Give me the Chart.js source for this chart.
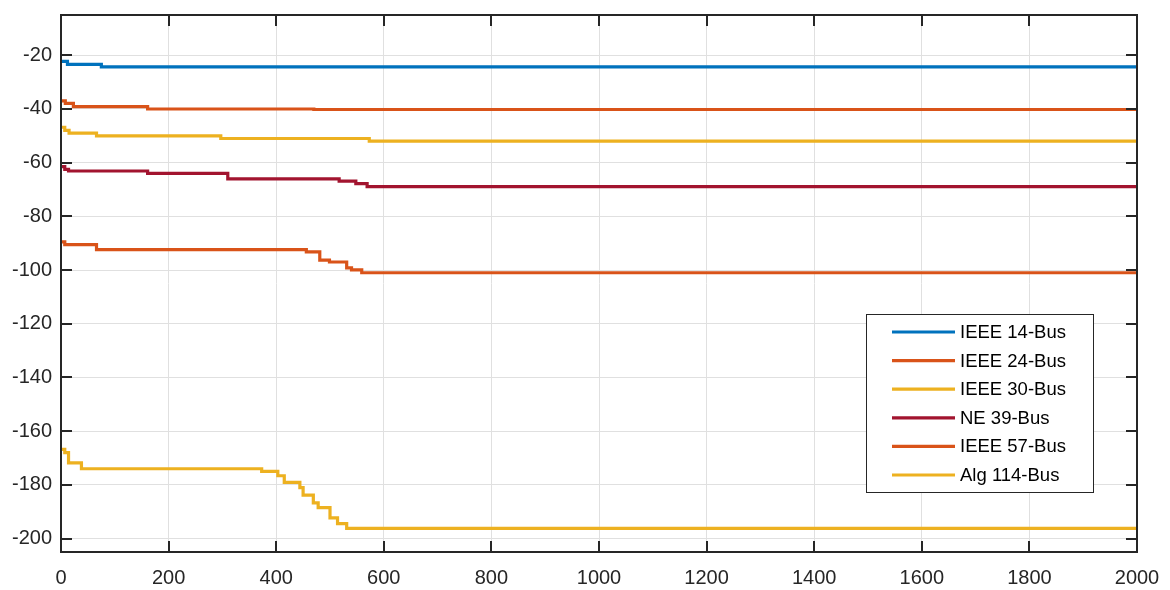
<!DOCTYPE html>
<html>
<head>
<meta charset="utf-8">
<script src="https://cdn.jsdelivr.net/npm/chart.js@4"></script>
<style>
  html, body { margin: 0; padding: 0; background: #fff; }
  #wrap { width: 1170px; height: 590px; }
</style>
</head>
<body>
<div id="wrap"><canvas id="chart" width="1170" height="590"></canvas></div>
<script>
// axis ticks
var xTicks = [0, 200, 400, 600, 800, 1000, 1200, 1400, 1600, 1800, 2000];
var yTicks = [-200, -180, -160, -140, -120, -100, -80, -60, -40, -20];

// series names and colours
var seriesNames = ['IEEE 14-Bus', 'IEEE 24-Bus', 'IEEE 30-Bus', 'NE 39-Bus', 'IEEE 57-Bus', 'Alg 114-Bus'];
var seriesColors = ['#0072BD', '#D95319', '#EDB120', '#A2142F', '#D95319', '#EDB120'];

// step points: iteration where value changes, and the new value
var bus14X = [0, 12, 75, 2000];
var bus14Y = [-22.3, -23.4, -24.3, -24.3];

var bus24X = [0, 8, 23, 161, 470, 2000];
var bus24Y = [-37.0, -37.9, -39.1, -40.0, -40.2, -40.2];

var bus30X = [0, 7, 15, 66, 297, 573, 2000];
var bus30Y = [-46.8, -48.0, -49.0, -50.0, -51.0, -52.0, -52.0];

var bus39X = [0, 7, 14, 161, 310, 517, 548, 569, 2000];
var bus39Y = [-61.5, -62.5, -63.1, -64.0, -66.0, -66.9, -67.8, -68.9, -68.9];

var bus57X = [0, 7, 66, 456, 481, 499, 531, 540, 559, 2000];
var bus57Y = [-89.5, -90.5, -92.4, -93.2, -96.3, -97.0, -99.2, -99.9, -101.0, -101.0];

var bus114X = [0, 7, 14, 38, 373, 403, 415, 444, 450, 469, 478, 500, 514, 531, 2000];
var bus114Y = [-166.8, -168.0, -171.8, -174.0, -175.0, -176.6, -179.1, -181.0, -183.8, -186.7, -188.5, -192.3, -194.4, -196.2, -196.2];

var allX = [bus14X, bus24X, bus30X, bus39X, bus57X, bus114X];
var allY = [bus14Y, bus24Y, bus30Y, bus39Y, bus57Y, bus114Y];

var datasets = seriesNames.map(function (name, i) {
    return {
        label: name,
        data: allX[i].map(function (x, j) { return { x: x, y: allY[i][j] }; }),
        borderColor: seriesColors[i],
        backgroundColor: seriesColors[i],
        borderWidth: 3.2,
        pointRadius: 0,
        stepped: true,
        fill: false
    };
});

var fontFamily = 'Arial, "Liberation Sans", Helvetica, sans-serif';
var axisColor = '#262626';

// box around the axes with inward tick marks, plus the legend box
var boxPlugin = {
    id: 'boxPlugin',
    afterDraw: function (chart) {
        var ctx = chart.ctx;
        var a = chart.chartArea;
        var xs = chart.scales.x, ys = chart.scales.y;
        var len = 11;
        ctx.save();
        ctx.strokeStyle = axisColor;
        ctx.lineWidth = 2;
        ctx.strokeRect(a.left, a.top, a.right - a.left, a.bottom - a.top);
        ctx.beginPath();
        xTicks.forEach(function (v) {
            var px = Math.round(xs.getPixelForValue(v));
            ctx.moveTo(px, a.bottom); ctx.lineTo(px, a.bottom - len);
            ctx.moveTo(px, a.top); ctx.lineTo(px, a.top + len);
        });
        yTicks.forEach(function (v) {
            var py = Math.round(ys.getPixelForValue(v));
            ctx.moveTo(a.left, py); ctx.lineTo(a.left + len, py);
            ctx.moveTo(a.right, py); ctx.lineTo(a.right - len, py);
        });
        ctx.stroke();

        // legend
        var lx = a.left + 805, ly = a.top + 299, lw = 227, lh = 178;
        ctx.fillStyle = '#fff';
        ctx.fillRect(lx, ly, lw, lh);
        ctx.lineWidth = 1;
        ctx.strokeStyle = axisColor;
        ctx.strokeRect(lx + 0.5, ly + 0.5, lw, lh);
        ctx.font = '18.5px ' + fontFamily;
        ctx.textBaseline = 'middle';
        ctx.textAlign = 'left';
        seriesNames.forEach(function (name, i) {
            var y = ly + 18 + i * 28.6;
            ctx.strokeStyle = seriesColors[i];
            ctx.lineWidth = 3.2;
            ctx.beginPath();
            ctx.moveTo(lx + 26, y);
            ctx.lineTo(lx + 89, y);
            ctx.stroke();
            ctx.fillStyle = '#000';
            ctx.fillText(name, lx + 94, y + 1);
        });
        ctx.restore();
    }
};

function zeroPad(scale) {
    scale.paddingTop = 0;
    scale.paddingBottom = 0;
    scale.paddingLeft = 0;
    scale.paddingRight = 0;
}

new Chart(document.getElementById('chart').getContext('2d'), {
    type: 'line',
    data: { datasets: datasets },
    plugins: [boxPlugin],
    options: {
        responsive: false,
        animation: false,
        layout: { padding: { left: 0, top: 15, right: 33, bottom: 0 } },
        plugins: {
            legend: { display: false },
            tooltip: { enabled: false }
        },
        scales: {
            x: {
                type: 'linear',
                min: 0,
                max: 2000,
                afterBuildTicks: function (scale) {
                    scale.ticks = xTicks.map(function (v) { return { value: v }; });
                },
                afterFit: function (scale) { scale.height = 38; zeroPad(scale); },
                grid: { color: '#e0e0e0', lineWidth: 1, drawTicks: false },
                border: { display: false },
                ticks: {
                    color: axisColor,
                    padding: 14,
                    maxRotation: 0,
                    font: { family: fontFamily, size: 20 },
                    callback: function (v) { return String(v); }
                }
            },
            y: {
                type: 'linear',
                min: -205,
                max: -5,
                afterBuildTicks: function (scale) {
                    scale.ticks = yTicks.map(function (v) { return { value: v }; });
                },
                afterFit: function (scale) { scale.width = 61; zeroPad(scale); },
                grid: { color: '#e0e0e0', lineWidth: 1, drawTicks: false },
                border: { display: false },
                ticks: {
                    color: axisColor,
                    padding: 9,
                    font: { family: fontFamily, size: 20 },
                    callback: function (v) { return String(v); }
                }
            }
        }
    }
});
</script>
</body>
</html>
